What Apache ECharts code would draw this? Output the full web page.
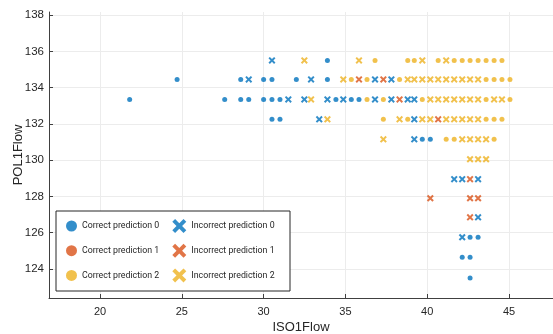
<!DOCTYPE html>
<html>
<head>
<meta charset="utf-8">
<script src="https://cdn.jsdelivr.net/npm/echarts@6/dist/echarts.min.js"></script>
<style>
  html, body { margin: 0; padding: 0; background: #fff; }
</style>
</head>
<body>
<div id="main" style="width:553px;height:334px;"></div>
<script>
// tick labels
const xTicks = [20, 25, 30, 35, 40, 45]
const yTicks = [124, 126, 128, 130, 132, 134, 136, 138]

// [ISO1Flow, POL1Flow] per class
const correct0 = [
  [33.9, 135.5],
  [24.71, 134.45], [28.6, 134.45], [30.0, 134.45], [30.51, 134.45], [32.0, 134.45], [33.9, 134.45],
  [21.81, 133.35], [27.62, 133.35], [28.6, 133.35], [29.09, 133.35], [30.0, 133.35], [30.51, 133.35],
  [31.0, 133.35], [34.42, 133.35], [35.36, 133.35], [35.83, 133.35],
  [30.51, 132.25], [31.0, 132.25],
  [39.7, 131.15], [40.19, 131.15],
  [42.62, 125.75], [43.11, 125.75],
  [42.14, 124.65], [42.62, 124.65],
  [42.62, 123.5]
]
const correct1 = []
const correct2 = [
  [36.81, 135.5], [38.81, 135.5], [39.21, 135.5], [40.67, 135.5], [41.65, 135.5], [42.14, 135.5],
  [42.62, 135.5], [43.11, 135.5], [43.6, 135.5], [44.09, 135.5], [44.57, 135.5],
  [35.36, 134.45], [36.32, 134.45], [38.31, 134.45], [43.6, 134.45], [44.09, 134.45], [44.57, 134.45], [45.06, 134.45],
  [36.32, 133.35], [37.32, 133.35], [39.7, 133.35], [43.6, 133.35], [45.06, 133.35],
  [37.32, 132.25], [38.81, 132.25], [43.6, 132.25], [44.09, 132.25], [44.57, 132.25],
  [41.16, 131.15], [41.65, 131.15], [44.09, 131.15]
]
const incorrect0 = [
  [30.51, 135.5],
  [29.09, 134.45], [32.9, 134.45], [36.81, 134.45], [37.81, 134.45],
  [31.51, 133.35], [32.49, 133.35], [33.9, 133.35], [34.87, 133.35], [36.81, 133.35],
  [37.81, 133.35], [38.81, 133.35], [39.21, 133.35],
  [33.4, 132.25], [39.21, 132.25],
  [39.21, 131.15],
  [41.65, 128.95], [42.14, 128.95], [43.11, 128.95],
  [43.11, 126.85],
  [42.14, 125.75]
]
const incorrect1 = [
  [35.83, 134.45], [37.32, 134.45],
  [38.31, 133.35],
  [40.67, 132.25],
  [42.62, 128.95],
  [40.19, 127.9], [42.62, 127.9], [43.11, 127.9],
  [42.62, 126.85]
]
const incorrect2 = [
  [32.49, 135.5], [35.83, 135.5], [39.7, 135.5], [41.16, 135.5],
  [34.87, 134.45], [38.81, 134.45], [39.21, 134.45], [39.7, 134.45], [40.19, 134.45], [40.67, 134.45],
  [41.16, 134.45], [41.65, 134.45], [42.14, 134.45], [42.62, 134.45], [43.11, 134.45],
  [32.9, 133.35], [40.19, 133.35], [40.67, 133.35], [41.16, 133.35], [41.65, 133.35], [42.14, 133.35],
  [42.62, 133.35], [43.11, 133.35], [44.09, 133.35], [44.57, 133.35],
  [33.9, 132.25], [38.31, 132.25], [39.7, 132.25], [40.19, 132.25], [41.16, 132.25], [41.65, 132.25],
  [42.14, 132.25], [42.62, 132.25], [43.11, 132.25],
  [37.32, 131.15], [42.14, 131.15], [42.62, 131.15], [43.11, 131.15], [43.6, 131.15],
  [42.62, 130.05], [43.11, 130.05], [43.6, 130.05]
]

const BLUE = '#0072BD'
const RED = '#D95319'
const YELLOW = '#EDB120'
const CROSS = 'path://M0,2 L2,0 L5,3 L8,0 L10,2 L7,5 L10,8 L8,10 L5,7 L2,10 L0,8 L3,5 Z'
const axisColor = '#404040'
const legendText = { fontSize: 8.8, color: '#262626', fontFamily: 'Roboto, sans-serif' }

function dots(name, data, color) {
  return { name, type: 'scatter', data, symbol: 'circle', symbolSize: 5, itemStyle: { color }, z: 3 }
}
function crosses(name, data, color) {
  return { name, type: 'scatter', data, symbol: CROSS, symbolSize: 7, itemStyle: { color }, z: 4 }
}

const chart = echarts.init(document.getElementById('main'))
chart.setOption({
  animation: false,
  grid: { left: 49, right: 0, top: 12, bottom: 36, outerBoundsMode: 'none', containLabel: false },
  xAxis: {
    type: 'value',
    min: 16.88,
    max: 47.69,
    name: 'ISO1Flow',
    nameLocation: 'middle',
    nameGap: 23,
    nameMoveOverlap: false,
    nameTextStyle: { fontSize: 13, color: '#262626', fontFamily: 'Liberation Sans, Arial, sans-serif' },
    axisLine: { lineStyle: { color: axisColor } },
    axisTick: { inside: true, length: 4, customValues: xTicks, lineStyle: { color: axisColor } },
    axisLabel: { customValues: xTicks, fontSize: 11, color: '#262626', margin: 8, fontFamily: 'Liberation Sans, Arial, sans-serif' },
    splitLine: { show: true, lineStyle: { color: '#ececec' } }
  },
  yAxis: {
    type: 'value',
    min: 122.4,
    max: 138.17,
    name: 'POL1Flow',
    nameLocation: 'middle',
    nameGap: 24.5,
    nameMoveOverlap: false,
    nameTextStyle: { fontSize: 13, color: '#262626', fontFamily: 'Liberation Sans, Arial, sans-serif' },
    axisLine: { show: true, lineStyle: { color: axisColor } },
    axisTick: { show: true, inside: true, length: 4, customValues: yTicks, lineStyle: { color: axisColor } },
    axisLabel: { customValues: yTicks, fontSize: 11.5, color: '#262626', margin: 5, fontFamily: 'Liberation Sans, Arial, sans-serif' },
    splitLine: { show: true, lineStyle: { color: '#ececec' } }
  },
  legend: [
    {
      orient: 'vertical', left: 66, top: 220.5, padding: 0, z: 20,
      itemWidth: 11, itemHeight: 11, itemGap: 13.7, selectedMode: false,
      textStyle: legendText,
      data: ['Correct prediction 0', 'Correct prediction 1', 'Correct prediction 2']
    },
    {
      orient: 'vertical', left: 172.3, top: 219, padding: 0, z: 20,
      itemWidth: 14, itemHeight: 14, itemGap: 10.7, selectedMode: false,
      textStyle: legendText,
      data: ['Incorrect prediction 0', 'Incorrect prediction 1', 'Incorrect prediction 2']
    }
  ],
  graphic: [{
    type: 'rect', left: 55.5, top: 210.5, z: 10,
    shape: { width: 234, height: 80 },
    style: { fill: '#fff', stroke: '#262626', lineWidth: 1 }
  }],
  series: [
    dots('Correct prediction 0', correct0, BLUE),
    dots('Correct prediction 1', correct1, RED),
    dots('Correct prediction 2', correct2, YELLOW),
    crosses('Incorrect prediction 0', incorrect0, BLUE),
    crosses('Incorrect prediction 1', incorrect1, RED),
    crosses('Incorrect prediction 2', incorrect2, YELLOW)
  ]
})
</script>
</body>
</html>
